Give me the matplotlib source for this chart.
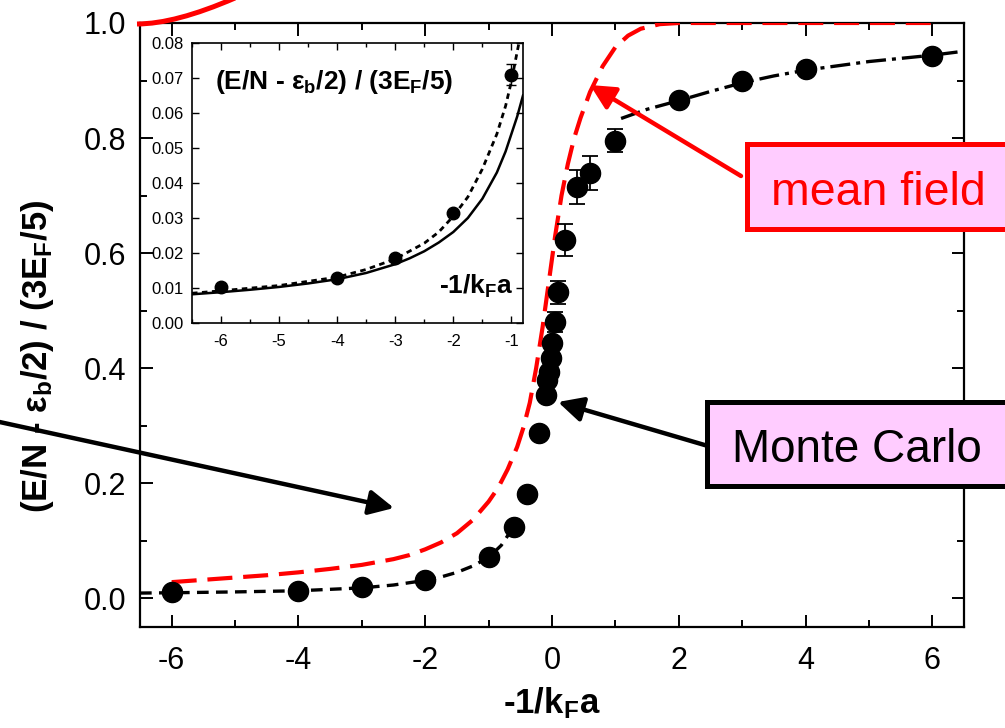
import matplotlib
matplotlib.use("Agg")
import matplotlib.pyplot as plt
from matplotlib.patches import Rectangle, FancyArrowPatch, PathPatch
from matplotlib.path import Path
from matplotlib.ticker import MultipleLocator, FormatStrFormatter

plt.rcParams["font.family"] = ["Liberation Sans", "DejaVu Sans"]
plt.rcParams["mathtext.fontset"] = "custom"
plt.rcParams["mathtext.rm"] = "Liberation Sans"
plt.rcParams["mathtext.bf"] = "Liberation Sans:bold"
plt.rcParams["mathtext.it"] = "Liberation Sans:italic"
plt.rcParams["axes.unicode_minus"] = False

NARROW = ["Liberation Sans Narrow", "Liberation Sans", "DejaVu Sans"]

# Monte Carlo points (main panel)
qmc_x = [-6, -4, -3, -2, -1, -0.6, -0.4, -0.2, -0.1, -0.08, -0.05, -0.02, 0.0,
         0.05, 0.1, 0.2, 0.4, 0.6, 1, 2, 3, 4, 6]
qmc_y = [0.010, 0.013, 0.019, 0.031, 0.071, 0.123, 0.182, 0.288, 0.354, 0.379,
         0.393, 0.417, 0.443, 0.480, 0.532, 0.623, 0.715, 0.739, 0.795, 0.866,
         0.899, 0.920, 0.943]
qmc_err = [0, 0, 0, 0, 0, 0, 0, 0, 0, 0, 0, 0, 0,
           0.017, 0.02, 0.028, 0.03, 0.03, 0.02, 0, 0, 0, 0]

# mean field curve (red dashed)
mf_x = [-6, -5.5, -5, -4.5, -4, -3.5, -3, -2.5, -2.25, -2, -1.75, -1.5, -1.25,
        -1, -0.85, -0.7, -0.55, -0.45, -0.35, -0.25, -0.15, -0.05, 0.05, 0.15,
        0.25, 0.35, 0.45, 0.6, 0.8, 1.0, 1.2, 1.4, 1.7, 2.0, 6.0]
mf_y = [0.028, 0.032, 0.036, 0.040, 0.045, 0.051, 0.058, 0.068, 0.075, 0.085,
        0.097, 0.113, 0.136, 0.168, 0.192, 0.224, 0.263, 0.297, 0.340, 0.400,
        0.470, 0.550, 0.630, 0.700, 0.755, 0.800, 0.835, 0.880, 0.925, 0.958,
        0.978, 0.990, 0.998, 1.0, 1.0]

# BEC side fit (black dashed)
bec_x = [-6.5, -6, -5, -4, -3, -2.5, -2, -1.75, -1.5, -1.25, -1, -0.8, -0.6]
bec_y = [0.009, 0.0095, 0.011, 0.013, 0.018, 0.023, 0.031, 0.037, 0.045, 0.056,
         0.071, 0.092, 0.125]

# BCS side fit (black dash-dot)
bcs_x = [1.09, 1.5, 2, 2.5, 3, 3.5, 4, 5, 6, 6.5]
bcs_y = [0.834, 0.850, 0.865, 0.881, 0.896, 0.908, 0.918, 0.933, 0.944, 0.951]

# inset data
in_x = [-6, -4, -3, -2, -1]
in_y = [0.0103, 0.0129, 0.0186, 0.0314, 0.0709]
in_err = [0, 0, 0, 0, 0.003]

in_solid_x = [-6.5, -6, -5.5, -5, -4.5, -4, -3.5, -3, -2.75, -2.5, -2.25, -2,
              -1.75, -1.5, -1.25, -1.1, -1.0, -0.9, -0.8]
in_solid_y = [0.0082, 0.0088, 0.0095, 0.0103, 0.0113, 0.0125, 0.0143, 0.0168,
              0.0185, 0.0205, 0.0230, 0.0260, 0.0300, 0.0355, 0.0430, 0.0490,
              0.0540, 0.0590, 0.0650]
in_dot_x = [-6.5, -6, -5, -4, -3.5, -3, -2.5, -2.25, -2, -1.75, -1.5, -1.25,
            -1.1, -1.0, -0.93, -0.87]
in_dot_y = [0.0085, 0.0092, 0.0107, 0.0131, 0.0153, 0.0183, 0.0228, 0.0260,
            0.0305, 0.0360, 0.0440, 0.0540, 0.0620, 0.0690, 0.0750, 0.0800]

W, H = 1005, 728
fig = plt.figure(figsize=(W / 100, H / 100), dpi=100)


def fpx(x, y):
    return (x / W, 1 - y / H)


# main axes
ax = fig.add_axes([140 / W, 1 - 627 / H, 824 / W, 604 / H])
ax.plot(mf_x, mf_y, color="#ff0000", lw=3, dashes=(6, 2.6), zorder=3)
ax.plot(bec_x, bec_y, color="black", lw=2.4, dashes=(3.5, 2.2), zorder=3)
ax.plot(bcs_x, bcs_y, color="black", lw=2.4, dashes=(6, 1.8, 1.2, 1.8), zorder=3)
ax.errorbar(qmc_x, qmc_y, yerr=qmc_err, fmt="o", color="black", ms=14.5,
            ecolor="black", elinewidth=1.3, capsize=5.5, capthick=1.3, zorder=4)

ax.set_xlim(-6.5, 6.5)
ax.set_ylim(-0.05, 1.0)
ax.xaxis.set_major_locator(MultipleLocator(2))
ax.xaxis.set_minor_locator(MultipleLocator(1))
ax.yaxis.set_major_locator(MultipleLocator(0.2))
ax.yaxis.set_minor_locator(MultipleLocator(0.1))
ax.yaxis.set_major_formatter(FormatStrFormatter("%.1f"))
ax.tick_params(which="both", direction="in", top=True, right=True, width=1.4,
               labelsize=22)
ax.tick_params(which="major", length=9)
ax.tick_params(which="minor", length=5)
ax.tick_params(axis="x", pad=14)
ax.tick_params(axis="y", pad=10)
for s in ax.spines.values():
    s.set_linewidth(1.6)

fig.text(37 / W, 1 - 356 / H, r"(E/N - ε$_\mathbf{b}$/2) / (3E$_\mathbf{F}$/5)",
         rotation=90, ha="center", va="center", fontsize=25, fontweight="bold")
fig.text(552 / W, 1 - 703 / H, r"-1/k$_\mathbf{F}$a", ha="center", va="center",
         fontsize=25, fontweight="bold")

# inset
axi = fig.add_axes([192 / W, 1 - 323 / H, 331 / W, 280 / H])
axi.plot(in_solid_x, in_solid_y, color="black", lw=1.8, zorder=3)
axi.plot(in_dot_x, in_dot_y, color="black", lw=2.0, dashes=(2, 1.6), zorder=3)
axi.errorbar(in_x, in_y, yerr=in_err, fmt="o", color="black", ms=9,
             ecolor="black", elinewidth=1.0, capsize=3.5, capthick=1.0, zorder=4)
axi.set_xlim(-6.5, -0.8)
axi.set_ylim(0, 0.08)
axi.xaxis.set_major_locator(MultipleLocator(1))
axi.xaxis.set_minor_locator(MultipleLocator(0.5))
axi.yaxis.set_major_locator(MultipleLocator(0.01))
axi.yaxis.set_major_formatter(FormatStrFormatter("%.2f"))
axi.tick_params(which="both", direction="in", top=True, right=True, width=1.0,
                labelsize=12)
axi.tick_params(which="major", length=5)
axi.tick_params(which="minor", length=3)
axi.tick_params(axis="x", pad=8)
axi.tick_params(axis="y", pad=6)
for lab in axi.get_xticklabels() + axi.get_yticklabels():
    lab.set_family(NARROW)
for s in axi.spines.values():
    s.set_linewidth(1.2)
axi.text(0.07, 0.86, r"(E/N - ε$_\mathbf{b}$/2) / (3E$_\mathbf{F}$/5)",
         transform=axi.transAxes, ha="left", va="center", fontsize=19,
         fontweight="bold", family=NARROW)
axi.text(0.97, 0.13, r"-1/k$_\mathbf{F}$a", transform=axi.transAxes, ha="right",
         va="center", fontsize=19, fontweight="bold", family=NARROW)

# labelled boxes
mc_box = Rectangle(fpx(707, 486), (1015 - 707) / W, 84 / H, transform=fig.transFigure,
                   fc="#ffccff", ec="black", lw=3.6, zorder=10)
fig.add_artist(mc_box)
fig.text(732 / W, 1 - 462 / H, "Monte Carlo", ha="left", va="baseline",
         fontsize=33, zorder=11)

mf_box = Rectangle(fpx(747, 229), (1015 - 747) / W, 85 / H, transform=fig.transFigure,
                   fc="#ffccff", ec="#ff0000", lw=3.6, zorder=10)
fig.add_artist(mf_box)
fig.text(771 / W, 1 - 205 / H, "mean field", ha="left", va="baseline",
         fontsize=33.5, color="#ff0000", zorder=11)

# arrows
arrows = [((741, 176), (590, 85), "#ff0000"),
          ((708, 446), (558, 402), "black"),
          ((-5, 421), (394, 508), "black")]
for (x0, y0), (x1, y1), c in arrows:
    a = FancyArrowPatch(fpx(x0, y0), fpx(x1, y1), transform=fig.transFigure,
                        arrowstyle="-|>,head_length=0.6,head_width=0.3",
                        mutation_scale=25, lw=3.2, color=c, zorder=9,
                        shrinkA=0, shrinkB=0)
    fig.add_artist(a)

# red arc at top left
arc = Path([fpx(137, 24), fpx(175, 24), fpx(235, -2)],
           [Path.MOVETO, Path.CURVE3, Path.CURVE3])
fig.add_artist(PathPatch(arc, transform=fig.transFigure, fill=False,
                         ec="#ff0000", lw=3.6, zorder=9))

fig.savefig("out.png", dpi=100)
